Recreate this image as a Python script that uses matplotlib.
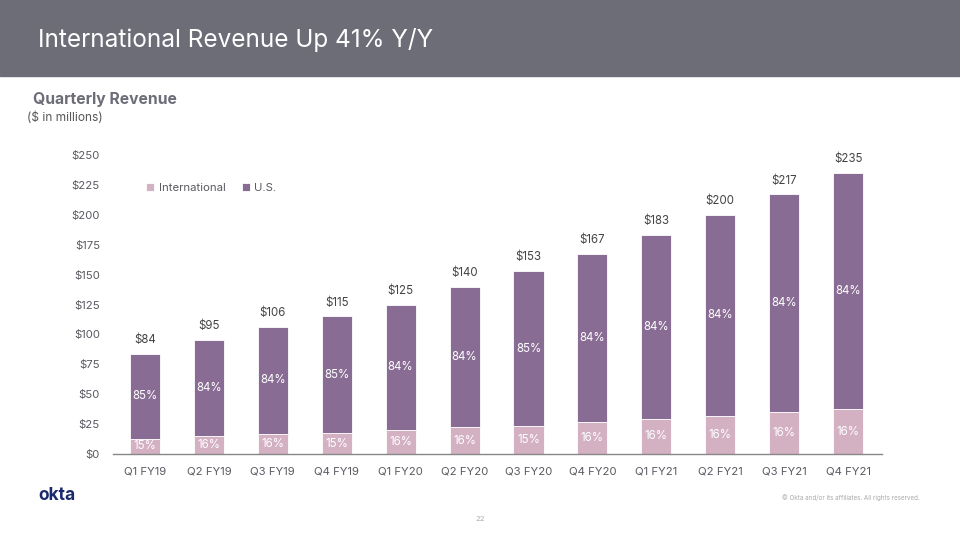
import matplotlib.pyplot as plt
import numpy as np

plt.rcParams['font.family'] = ['Inter', 'DejaVu Sans']

quarters = ["Q1 FY19", "Q2 FY19", "Q3 FY19", "Q4 FY19", "Q1 FY20", "Q2 FY20",
            "Q3 FY20", "Q4 FY20", "Q1 FY21", "Q2 FY21", "Q3 FY21", "Q4 FY21"]
total = [84, 95, 106, 115, 125, 140, 153, 167, 183, 200, 217, 235]
intl = [12.6, 15.2, 17.0, 17.3, 20.0, 22.4, 23.0, 26.7, 29.3, 32.0, 34.7, 37.6]
intl_pct = [15, 16, 16, 15, 16, 16, 15, 16, 16, 16, 16, 16]
us_pct = [85, 84, 84, 85, 84, 84, 85, 84, 84, 84, 84, 84]
yticks = [0, 25, 50, 75, 100, 125, 150, 175, 200, 225, 250]

us = [t - i for t, i in zip(total, intl)]

C_US = "#886c93"
C_INTL = "#d3b0c2"
GREY = "#5a5a62"

fig = plt.figure(figsize=(9.6, 5.4), dpi=100)

# header band
fig.patches.append(plt.Rectangle((0, 1 - 76 / 540), 1, 76 / 540, transform=fig.transFigure,
                                 color="#6d6d78", zorder=0))
fig.text(38 / 960, 1 - 40 / 540, "International Revenue Up 41% Y/Y", color="white",
         fontsize=17.5, va="center", ha="left")
fig.text(33 / 960, 1 - 100 / 540, "Quarterly Revenue", color="#6d6d78",
         fontsize=11.3, fontweight="bold", va="center")
fig.text(27 / 960, 1 - 118 / 540, "($ in millions)", color="#555555",
         fontsize=8.6, va="center")

ax = fig.add_axes([113 / 960, 1 - 454 / 540, 769 / 960, 299 / 540])
x = np.arange(len(quarters))
w = 0.47
ax.bar(x, intl, w, color=C_INTL, label="International", edgecolor="white", linewidth=0.6)
ax.bar(x, us, w, bottom=intl, color=C_US, label="U.S.", edgecolor="white", linewidth=0.6)

for i in range(len(x)):
    ax.text(x[i], intl[i] / 2, f"{intl_pct[i]}%", color="white", fontsize=8.3,
            ha="center", va="center")
    ax.text(x[i], intl[i] + us[i] / 2, f"{us_pct[i]}%", color="white", fontsize=8.3,
            ha="center", va="center")
    ax.annotate(f"${total[i]}", (x[i], total[i]), xytext=(0, 10), textcoords="offset points",
                ha="center", va="center", fontsize=8.3, color="#444444")

ax.set_xlim(-0.5, 11.53)
ax.set_ylim(0, 250)
ax.set_yticks(yticks)
ax.set_yticklabels([f"${v}" for v in yticks])
ax.set_xticks(x)
ax.set_xticklabels(quarters)
ax.tick_params(axis="both", length=0, labelsize=8.2, labelcolor=GREY)
ax.tick_params(axis="x", pad=9)
ax.tick_params(axis="y", pad=9.4)
for s in ["top", "right", "left"]:
    ax.spines[s].set_visible(False)
ax.spines["bottom"].set_color("#888888")
ax.spines["bottom"].set_linewidth(1)

ax.legend(loc="upper left", bbox_to_anchor=(0.03, 0.942), ncol=2, frameon=False,
          fontsize=8.2, handlelength=0.7, handleheight=0.7, handletextpad=0.4,
          columnspacing=1.4, labelcolor=GREY)

# footer
fig.text(38 / 960, 1 - 496 / 540, "okta", color="#1a2a6c", fontsize=12.5,
         fontweight="bold", va="center")
fig.text(920 / 960, 1 - 498 / 540, "© Okta and/or its affiliates. All rights reserved.",
         color="#aaaaaa", fontsize=4.5, ha="right", va="center")
fig.text(480 / 960, 1 - 519 / 540, "22", color="#aaaaaa", fontsize=5.5,
         ha="center", va="center")

fig.savefig("out.png", dpi=100)
